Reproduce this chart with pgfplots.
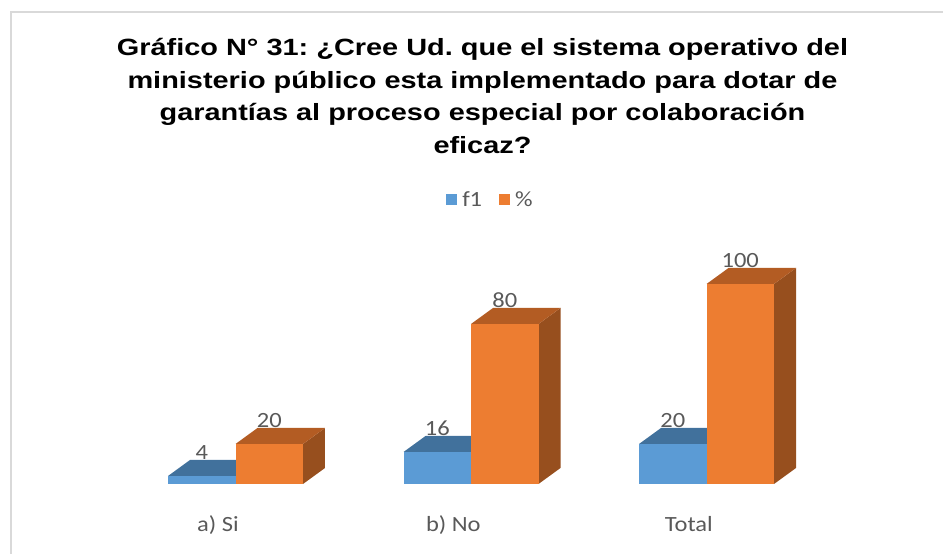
\documentclass[border=0pt]{standalone}
\usepackage{pgfplots}
\pgfplotsset{compat=1.18}
\usepackage{fontspec}
\setmainfont{Carlito}
\newfontfamily\titlefont{Liberation Sans}
\frenchspacing
\definecolor{bfront}{HTML}{5B9BD5}
\definecolor{btop}{HTML}{41719C}
\definecolor{bside}{HTML}{3A6590}
\definecolor{ofront}{HTML}{ED7D31}
\definecolor{otop}{HTML}{B35C23}
\definecolor{oside}{HTML}{974F1E}
\definecolor{txt}{HTML}{595959}
\definecolor{framec}{HTML}{D9D9D9}

\newcommand\bw{0.2866}
\newcommand\ddx{0.0934}
\newcommand\ddy{8}
% #1 left x, #2 value, #3 front, #4 top, #5 side
\newcommand{\cuboid}[5]{%
  \pgfmathsetmacro\xl{#1}%
  \pgfmathsetmacro\xr{#1+\bw}%
  \pgfmathsetmacro\xlb{#1+\ddx}%
  \pgfmathsetmacro\xrb{#1+\bw+\ddx}%
  \pgfmathsetmacro\yt{#2}%
  \pgfmathsetmacro\ytb{#2+\ddy}%
  \pgfmathsetmacro\yb{\ddy}%
  \edef\doit{%
    \noexpand\addplot[fill=#5,draw=none] coordinates {(\xr,0) (\xrb,\yb) (\xrb,\ytb) (\xr,\yt)} -- cycle;
    \noexpand\addplot[fill=#4,draw=none] coordinates {(\xl,\yt) (\xr,\yt) (\xrb,\ytb) (\xlb,\ytb)} -- cycle;
    \noexpand\addplot[fill=#3,draw=none] coordinates {(\xl,0) (\xr,0) (\xr,\yt) (\xl,\yt)} -- cycle;
  }\doit}
\newcommand\lblfont{\fontsize{21.7bp}{26bp}\selectfont}

\begin{document}
\begin{tikzpicture}[x=1bp,y=1bp]
\useasboundingbox (0,0) rectangle (943,554);
\draw[framec, line width=2bp] (10.5,0) -- (10.5,542) -- (943,542);
\begin{scope}[every node/.style={anchor=base, inner sep=0pt, xscale=1.23, font=\titlefont\bfseries\fontsize{23.5bp}{28bp}\selectfont}]
\node at (482.5,498) {Gráfico N° 31: ¿Cree Ud. que el sistema operativo del};
\node at (482.5,465.5) {ministerio público esta implementado para dotar de};
\node at (482.5,433) {garantías al proceso especial por colaboración};
\node at (482.5,400.5) {eficaz?};
\end{scope}
\begin{axis}[
  at={(0bp,70bp)}, anchor=south west,
  scale only axis, width=942bp, height=240bp,
  xmin=-1, xmax=3, ymin=0, ymax=120,
  clip=false,
  axis line style={draw=none},
  major tick length=0pt,
  ytick=\empty,
  /pgf/number format/assume math mode=true,
  xtick={-0.075,0.925,1.925},
  xticklabels={a) Si, b) No, Total},
  xticklabel style={anchor=base, yshift=-48bp, xscale=1.13, text=txt, font=\lblfont},
  legend image code/.code={\fill[#1] (0bp,-5.5bp) rectangle (11bp,5.5bp);},
  legend style={draw=none, fill=none, at={(0.5196,1.1833)}, anchor=center,
    legend columns=2, font=\lblfont, text=txt,
    nodes={inner sep=0pt, xscale=1.13},
    /tikz/every odd column/.append style={column sep=5bp},
    /tikz/every even column/.append style={column sep=17bp}},
]
\addlegendimage{fill=bfront, draw=none}
\addlegendentry{f1}
\addlegendimage{fill=ofront, draw=none}
\addlegendentry{\%}

% a) Si: f1 = 4, % = 20
\cuboid{-0.2866}{4}{bfront}{btop}{bside}
\cuboid{0}{20}{ofront}{otop}{oside}
% b) No: f1 = 16, % = 80
\cuboid{0.7134}{16}{bfront}{btop}{bside}
\cuboid{1}{80}{ofront}{otop}{oside}
% Total: f1 = 20, % = 100
\cuboid{1.7134}{20}{bfront}{btop}{bside}
\cuboid{2}{100}{ofront}{otop}{oside}

\addplot[draw=none, nodes near coords, point meta=explicit,
  every node near coord/.append style={anchor=base, yshift=0.5bp, inner sep=0pt, xscale=1.13, text=txt, font=\lblfont}]
  coordinates {(-0.1433,12) [4] (0.1433,28) [20]
               (0.8567,24) [16] (1.1433,88) [80]
               (1.8567,28) [20] (2.1433,108) [100]};
\end{axis}
\end{tikzpicture}
\end{document}
